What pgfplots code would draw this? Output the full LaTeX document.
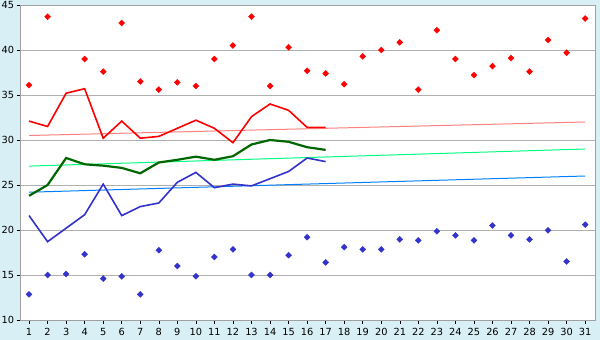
\documentclass[border=0pt]{standalone}
\usepackage{pgfplots}
\pgfplotsset{compat=1.18}
\usepackage{fontspec}
\setmainfont{DejaVu Sans}
\definecolor{bgblue}{HTML}{D9EFF6}
\definecolor{gridgray}{HTML}{B0B0B0}
\definecolor{framegray}{HTML}{A0A0A0}
\definecolor{dgreen}{HTML}{006600}
\definecolor{lblue}{HTML}{3333CC}
\definecolor{tred}{HTML}{FF8080}
\definecolor{tgreen}{HTML}{00FF80}
\definecolor{tblue}{HTML}{0080FF}
\begin{document}
\begin{tikzpicture}
\fill[bgblue] (-20.7pt,-20pt) rectangle (579.3pt,320pt);
\begin{axis}[
  at={(0,0)}, anchor=south west,
  scale only axis, width=574.3pt, height=315pt,
  xmin=0.55, xmax=31.53, ymin=10, ymax=45,
  xtick={1,...,31}, ytick={10,15,...,45},
  ymajorgrids, grid style={gridgray, line width=0.8pt},
  axis line style={framegray, line width=0.8pt},
  axis background/.style={fill=white},
  tick align=outside, major tick length=4pt,
  tick style={black, line width=0.6pt},
  xtick pos=bottom, ytick pos=left,
  tick label style={font=\fontsize{9.8}{11}\selectfont},
  /pgf/number format/assume math mode=true,
  xticklabel style={yshift=-1pt},
  yticklabel style={xshift=1pt},
]
% trend lines
\addplot[tred, line width=1pt] coordinates {(1,30.5) (31,32.0)};
\addplot[tgreen, line width=1pt] coordinates {(1,27.1) (31,29.0)};
\addplot[tblue, line width=1pt] coordinates {(1,24.2) (31,26.0)};
% average lines
\addplot[red, line width=1.6pt] coordinates {
(1,32.1)(2,31.5)(3,35.2)(4,35.7)(5,30.2)(6,32.1)(7,30.2)(8,30.4)(9,31.3)(10,32.2)
(11,31.3)(12,29.7)(13,32.6)(14,34.0)(15,33.3)(16,31.4)(17,31.4)};
\addplot[dgreen, line width=2.2pt] coordinates {
(1,23.8)(2,25.0)(3,28.0)(4,27.3)(5,27.15)(6,26.9)(7,26.3)(8,27.5)(9,27.8)(10,28.15)
(11,27.8)(12,28.2)(13,29.5)(14,30.0)(15,29.8)(16,29.2)(17,28.9)};
\addplot[lblue, line width=1.6pt] coordinates {
(1,21.6)(2,18.7)(3,20.2)(4,21.7)(5,25.1)(6,21.6)(7,22.6)(8,23.0)(9,25.3)(10,26.4)
(11,24.7)(12,25.1)(13,24.9)(14,25.7)(15,26.5)(16,28.0)(17,27.6)};
% max points
\addplot[only marks, mark=square*, mark size=2.1pt, red, mark options={fill=red, rotate=45}] coordinates {
(1,36.1)(2,43.7)(4,39.0)(5,37.6)(6,43.0)(7,36.5)(8,35.6)(9,36.4)(10,36.0)
(11,39.0)(12,40.5)(13,43.7)(14,36.0)(15,40.3)(16,37.7)(17,37.4)(18,36.2)(19,39.3)(20,40.0)
(21,40.85)(22,35.6)(23,42.2)(24,39.0)(25,37.2)(26,38.2)(27,39.1)(28,37.6)(29,41.1)(30,39.7)(31,43.5)};
% min points
\addplot[only marks, mark=square*, mark size=2.1pt, lblue, mark options={fill=lblue, rotate=45}] coordinates {
(1,12.85)(2,15.0)(3,15.1)(4,17.3)(5,14.6)(6,14.85)(7,12.85)(8,17.75)(9,16.0)(10,14.85)
(11,17.0)(12,17.85)(13,15.0)(14,15.0)(15,17.2)(16,19.2)(17,16.4)(18,18.1)(19,17.85)(20,17.85)
(21,18.96)(22,18.85)(23,19.85)(24,19.4)(25,18.85)(26,20.5)(27,19.4)(28,18.96)(29,19.96)(30,16.5)(31,20.6)};
\end{axis}
\pgfresetboundingbox
\path (-20.7pt,-20pt) rectangle (579.3pt,320pt);
\end{tikzpicture}
\end{document}
